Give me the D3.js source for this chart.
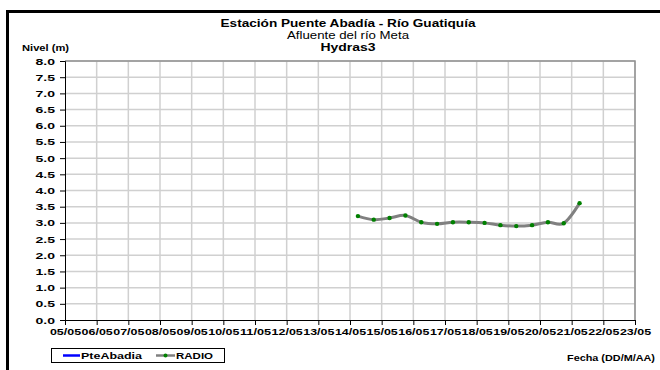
<!DOCTYPE html>
<html>
<head>
<meta charset="utf-8">
<script src="https://cdn.jsdelivr.net/npm/d3@7"></script>
<style>
  body { margin: 0; background: #fff; }
  svg { font-family: "Liberation Sans", Arial, sans-serif; }
</style>
</head>
<body>
<div id="chart"></div>
<script>
// Serie RADIO: lecturas cada 12 horas (DD/MM HH)
const fechas = ["14/05 06", "14/05 18", "15/05 06", "15/05 18", "16/05 06", "16/05 18",
                "17/05 06", "17/05 18", "18/05 06", "18/05 18", "19/05 06", "19/05 18",
                "20/05 06", "20/05 18", "21/05 06"];
const nivelRadio = [3.21, 3.10, 3.15, 3.23, 3.02, 2.97, 3.02, 3.02,
                    3.00, 2.93, 2.90, 2.93, 3.02, 2.99, 3.61];
const nivelPteAbadia = [];  // sin datos en el periodo
const yTicks = d3.range(0, 8.01, 0.5);
const fechaInicio = "05/05", fechaFin = "23/05";

const width = 660, height = 370;
const margin = {top: 61, right: 25, bottom: 50, left: 65};

const parse = d3.utcParse("%d/%m/%Y %H");
const data = fechas.map((f, i) => ({t: parse(f.replace(" ", "/2010 ")), v: nivelRadio[i]}));

// the original's text is stretched sideways, so force widths
function stretch(sel, w) {
  sel.attr("textLength", w).attr("lengthAdjust", "spacingAndGlyphs");
}

const svg = d3.select("#chart").append("svg")
    .attr("width", width)
    .attr("height", height);

const x = d3.scaleUtc()
    .domain([parse(fechaInicio + "/2010 00"), parse(fechaFin + "/2010 00")])
    .range([margin.left, width - margin.right]);
const y = d3.scaleLinear()
    .domain([0, 8])
    .range([height - margin.bottom, margin.top]);

const dias = d3.utcDay.range(x.domain()[0], d3.utcDay.offset(x.domain()[1], 1));
const paso = x(dias[1]) - x(dias[0]);

// outer frame (only top/left visible in the original)
svg.append("path")
    .attr("d", `M7.5,${height + 5}V11.5H${width + 5}`)
    .attr("fill", "none")
    .attr("stroke", "#000")
    .attr("stroke-width", 3);

// grid
svg.append("g")
  .selectAll("line")
  .data(yTicks.slice(1))
  .join("line")
    .attr("x1", margin.left).attr("x2", width - margin.right)
    .attr("y1", d => y(d)).attr("y2", d => y(d))
    .attr("stroke", "#d0d0d0").attr("stroke-width", 1.5);
svg.append("g")
  .selectAll("line")
  .data(dias.slice(1))
  .join("line")
    .attr("x1", d => x(d)).attr("x2", d => x(d))
    .attr("y1", margin.top).attr("y2", height - margin.bottom)
    .attr("stroke", "#d0d0d0").attr("stroke-width", 1.5);

// plot border top/right
svg.append("path")
    .attr("d", `M${margin.left},${margin.top}H${width - margin.right}V${height - margin.bottom}`)
    .attr("fill", "none")
    .attr("stroke", "#909090")
    .attr("stroke-width", 1.5);

// axes
const yAxis = svg.append("g")
    .attr("transform", `translate(${margin.left},0)`)
    .call(d3.axisLeft(y).tickValues(yTicks).tickFormat(d3.format(".1f")).tickSize(5).tickPadding(5));
const xAxis = svg.append("g")
    .attr("transform", `translate(0,${height - margin.bottom})`)
    .call(d3.axisBottom(x).tickValues(dias).tickFormat(d3.utcFormat("%d/%m")).tickSize(5).tickPadding(3));
[yAxis, xAxis].forEach(a => {
  a.select(".domain").attr("stroke", "#000");
  a.selectAll("text")
    .attr("font-family", "Liberation Sans, Arial, sans-serif")
    .attr("font-weight", "bold")
    .attr("font-size", 9.5)
    .attr("fill", "#000");
});
stretch(yAxis.selectAll("text"), 19.5);
stretch(xAxis.selectAll("text"), paso - 0.5);

// series
const line = d3.line()
    .x(d => x(d.t))
    .y(d => y(d.v))
    .curve(d3.curveCardinal.tension(0));
svg.append("path")
    .datum(data)
    .attr("d", line)
    .attr("fill", "none")
    .attr("stroke", "#808080")
    .attr("stroke-width", 3);
svg.append("g")
  .selectAll("circle")
  .data(data)
  .join("circle")
    .attr("cx", d => x(d.t))
    .attr("cy", d => y(d.v))
    .attr("r", 2.2)
    .attr("fill", "#008000");

// titles
const titulo = svg.append("g")
    .attr("text-anchor", "middle")
    .attr("font-size", 10);
titulo.append("text").attr("x", 348).attr("y", 27).attr("font-weight", "bold")
    .text("Estación Puente Abadía  - Río Guatiquía").call(stretch, 255);
titulo.append("text").attr("x", 348).attr("y", 39)
    .text("Afluente del río Meta").call(stretch, 122);
titulo.append("text").attr("x", 348).attr("y", 51).attr("font-weight", "bold")
    .text("Hydras3").call(stretch, 55);

svg.append("text")
    .attr("x", 22).attr("y", 51)
    .attr("font-size", 9).attr("font-weight", "bold")
    .text("Nivel (m)").call(stretch, 47);
svg.append("text")
    .attr("x", 655).attr("y", 361)
    .attr("text-anchor", "end")
    .attr("font-size", 9).attr("font-weight", "bold")
    .text("Fecha (DD/M/AA)").call(stretch, 88);

// legend
const leg = svg.append("g");
leg.append("rect")
    .attr("x", 51.5).attr("y", 348.5).attr("width", 173).attr("height", 14)
    .attr("fill", "#fff").attr("stroke", "#000");
leg.append("line")
    .attr("x1", 63).attr("x2", 80).attr("y1", 355.5).attr("y2", 355.5)
    .attr("stroke", "#0000ff").attr("stroke-width", 2.5);
leg.append("text").attr("x", 81).attr("y", 359)
    .attr("font-size", 9).attr("font-weight", "bold").text("PteAbadia").call(stretch, 61);
leg.append("line")
    .attr("x1", 156).attr("x2", 175).attr("y1", 355.5).attr("y2", 355.5)
    .attr("stroke", "#808080").attr("stroke-width", 2.5);
leg.append("circle")
    .attr("cx", 165.5).attr("cy", 355.5).attr("r", 2)
    .attr("fill", "#008000");
leg.append("text").attr("x", 176).attr("y", 359)
    .attr("font-size", 9).attr("font-weight", "bold").text("RADIO").call(stretch, 37);
</script>
</body>
</html>
